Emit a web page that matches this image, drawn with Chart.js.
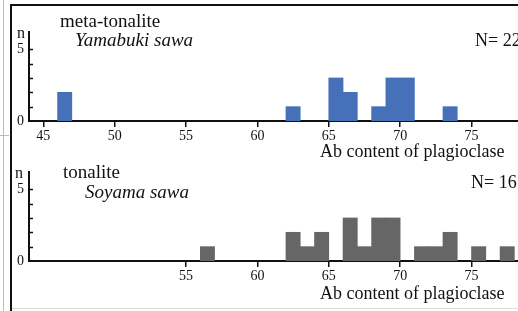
<!DOCTYPE html>
<html>
<head>
<meta charset="utf-8">
<script src="https://cdn.jsdelivr.net/npm/chart.js@4/dist/chart.umd.min.js"></script>
<style>
    html, body {
        margin: 0;
        padding: 0;
        width: 518px;
        height: 311px;
        overflow: hidden;
        background: #fff;
        font-family: 'Liberation Serif', serif;
    }
    .wrap {
        position: relative;
        width: 518px;
        height: 311px;
        overflow: hidden;
    }
    canvas {
        position: absolute;
        left: 0;
    }
    .txt {
        position: absolute;
        white-space: nowrap;
        color: #111;
        z-index: 2;
    }
    .frame {
        position: absolute;
        z-index: 3;
    }
</style>
</head>
<body>
<div class="wrap">
    <!-- cadre de la figure -->
    <div class="frame" style="left:3px; top:0; width:1px; height:311px; background:#bbb;"></div>
    <div class="frame" style="left:0; top:135px; width:9px; height:1px; background:#bbb;"></div>
    <div class="frame" style="left:10px; top:5px; width:2px; height:306px; background:#111;"></div>
    <div class="frame" style="left:10px; top:4px; width:508px; height:2px; background:#111;"></div>
    <div class="frame" style="left:12px; top:308px; width:506px; height:1px; background:#ddd;"></div>

    <canvas id="topChart" width="620" height="171" style="top:0;"></canvas>
    <canvas id="bottomChart" width="620" height="171" style="top:140px;"></canvas>

    <!-- panneau du haut -->
    <div class="txt" style="left:60px; top:11px; font-size:19px; line-height:19px;">meta-tonalite</div>
    <div class="txt" style="left:75px; top:30px; font-size:19px; line-height:19px; font-style:italic;">Yamabuki sawa</div>
    <div class="txt" style="left:17px; top:25px; font-size:16px; line-height:16px;">n</div>
    <div class="txt" style="left:475px; top:31px; font-size:18px; line-height:18px;">N= 22</div>
    <div class="txt" style="left:320px; top:142px; font-size:18px; line-height:18px;">Ab content of plagioclase</div>

    <!-- panneau du bas -->
    <div class="txt" style="left:63px; top:162px; font-size:19px; line-height:19px;">tonalite</div>
    <div class="txt" style="left:85px; top:182px; font-size:19px; line-height:19px; font-style:italic;">Soyama sawa</div>
    <div class="txt" style="left:15px; top:165px; font-size:16px; line-height:16px;">n</div>
    <div class="txt" style="left:471px; top:173px; font-size:18px; line-height:18px;">N= 16</div>
    <div class="txt" style="left:320px; top:284px; font-size:18px; line-height:18px;">Ab content of plagioclase</div>
</div>

<script>
// Début de chaque classe (largeur 1) et nombre de mesures
const topBins = [46, 62, 65, 66, 68, 69, 70, 73];
const topCounts = [2, 1, 3, 2, 1, 3, 3, 1];

const bottomBins = [56, 62, 63, 64, 66, 67, 68, 69, 71, 72, 73, 75, 77];
const bottomCounts = [1, 2, 1, 2, 3, 1, 3, 3, 1, 1, 2, 1, 1];

// Graduations
const topXTicks = [45, 50, 55, 60, 65, 70, 75, 80];
const bottomXTicks = [55, 60, 65, 70, 75, 80];
const yTicks = [0, 1, 2, 3, 4, 5];
const yLabels = [0, 5];

const xMin = 44;
const xMax = 84;
const yMax = 6.2;

Chart.defaults.font.family = "'Liberation Serif', 'Times New Roman', serif";
Chart.defaults.color = '#111';

// Petits traits de graduation vers l'intérieur sur l'axe n
const innerTicks = {
    id: 'innerTicks',
    afterDraw(chart) {
        const ctx = chart.ctx;
        const y = chart.scales.y;
        const left = chart.chartArea.left;
        ctx.save();
        ctx.strokeStyle = '#111';
        ctx.lineWidth = 1.5;
        yTicks.forEach(v => {
            if (v === 0) return;
            const py = Math.round(y.getPixelForValue(v)) + 0.5;
            ctx.beginPath();
            ctx.moveTo(left, py);
            ctx.lineTo(left + 4, py);
            ctx.stroke();
        });
        ctx.restore();
    }
};

function makeHistogram(canvasId, bins, counts, xTicks, color) {
    const ctx = document.getElementById(canvasId).getContext('2d');

    return new Chart(ctx, {
        type: 'bar',
        data: {
            datasets: [{
                data: bins.map((b, i) => ({ x: b + 0.5, y: counts[i] })),
                backgroundColor: color,
                borderWidth: 0,
                barPercentage: 1,
                categoryPercentage: 1
            }]
        },
        options: {
            responsive: false,
            animation: false,
            layout: {
                padding: { left: 0, top: 32, right: 20, bottom: 0 }
            },
            plugins: {
                legend: { display: false },
                tooltip: { enabled: false }
            },
            scales: {
                x: {
                    type: 'linear',
                    offset: false,
                    min: xMin,
                    max: xMax,
                    afterBuildTicks: scale => {
                        scale.ticks = xTicks.map(v => ({ value: v }));
                    },
                    afterFit: scale => {
                        scale.height = 50;
                    },
                    grid: {
                        offset: false,
                        drawOnChartArea: false,
                        drawTicks: true,
                        tickLength: 6,
                        color: '#111',
                        lineWidth: 1.5
                    },
                    border: { color: '#111', width: 2 },
                    ticks: {
                        autoSkip: false,
                        maxRotation: 0,
                        padding: 1,
                        font: { size: 14 }
                    }
                },
                y: {
                    min: 0,
                    max: yMax,
                    afterBuildTicks: scale => {
                        scale.ticks = yTicks.map(v => ({ value: v }));
                    },
                    afterFit: scale => {
                        scale.width = 29;
                    },
                    grid: { display: false, drawTicks: false },
                    border: { color: '#111', width: 2 },
                    ticks: {
                        autoSkip: false,
                        padding: 5,
                        font: { size: 14 },
                        callback: value => yLabels.includes(value) ? value : ''
                    }
                }
            }
        },
        plugins: [innerTicks]
    });
}

document.addEventListener('DOMContentLoaded', () => {
    makeHistogram('topChart', topBins, topCounts, topXTicks, '#4671b9');
    makeHistogram('bottomChart', bottomBins, bottomCounts, bottomXTicks, '#666666');
});
</script>
</body>
</html>
